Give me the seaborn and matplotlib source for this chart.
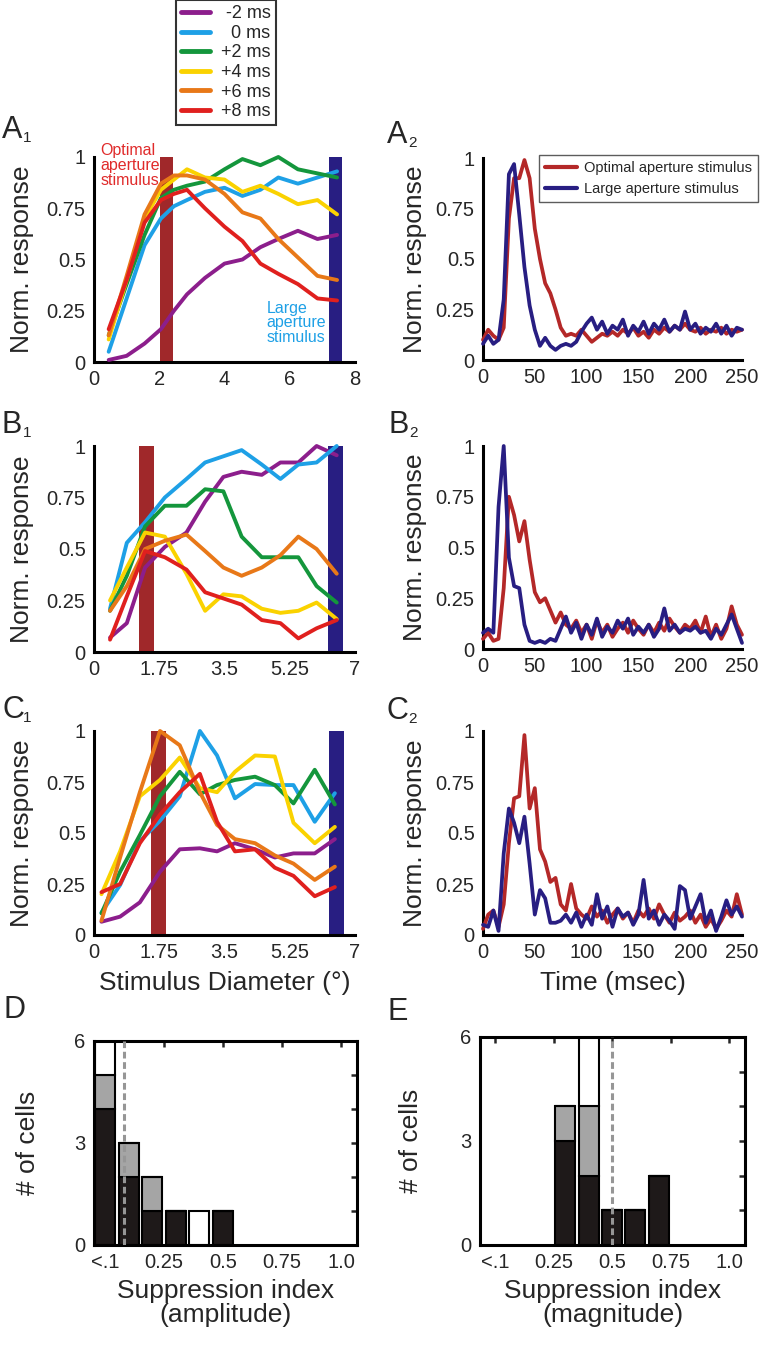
import sys

import numpy as np
import matplotlib
matplotlib.use("Agg")
import matplotlib.pyplot as plt
from matplotlib.lines import Line2D
import seaborn as sns

# tuning curves: response vs stimulus diameter for six delays
delay_labels = [' -2 ms', '  0 ms', '+2 ms', '+4 ms', '+6 ms', '+8 ms']
delay_colors = ['#8C1E8C', '#1EA0E6', '#14963C', '#FAD200', '#E87818', '#E0201E']

a1_diam = [0.45, 1.0, 1.55, 2.05, 2.45, 2.85, 3.4, 4.0, 4.55, 5.1, 5.65, 6.25, 6.85, 7.45]
a1_m2 = [0.01, 0.03, 0.09, 0.16, 0.25, 0.33, 0.41, 0.48, 0.50, 0.56, 0.60, 0.64, 0.60, 0.62]
a1_0 = [0.05, 0.31, 0.57, 0.70, 0.76, 0.79, 0.83, 0.85, 0.81, 0.84, 0.90, 0.87, 0.90, 0.93]
a1_p2 = [0.13, 0.38, 0.62, 0.80, 0.84, 0.86, 0.88, 0.94, 0.99, 0.96, 1.0, 0.94, 0.92, 0.90]
a1_p4 = [0.11, 0.40, 0.70, 0.84, 0.89, 0.94, 0.90, 0.89, 0.83, 0.86, 0.82, 0.77, 0.79, 0.72]
a1_p6 = [0.13, 0.42, 0.72, 0.87, 0.91, 0.91, 0.89, 0.82, 0.73, 0.70, 0.60, 0.51, 0.42, 0.40]
a1_p8 = [0.16, 0.40, 0.68, 0.79, 0.82, 0.84, 0.75, 0.66, 0.59, 0.48, 0.43, 0.38, 0.31, 0.30]

b1_diam = [0.43, 0.88, 1.37, 1.9, 2.48, 2.98, 3.47, 3.96, 4.5, 5.0, 5.48, 5.97, 6.51]
b1_m2 = [0.07, 0.14, 0.41, 0.51, 0.58, 0.73, 0.85, 0.875, 0.86, 0.92, 0.92, 1.0, 0.955]
b1_0 = [0.21, 0.53, 0.63, 0.75, 0.84, 0.92, 0.95, 0.98, 0.91, 0.84, 0.91, 0.92, 1.0]
b1_p2 = [0.20, 0.37, 0.61, 0.71, 0.71, 0.79, 0.78, 0.56, 0.46, 0.46, 0.46, 0.32, 0.24]
b1_p4 = [0.25, 0.41, 0.58, 0.56, 0.38, 0.20, 0.28, 0.27, 0.21, 0.19, 0.20, 0.24, 0.16]
b1_p6 = [0.20, 0.32, 0.50, 0.54, 0.57, 0.49, 0.41, 0.37, 0.41, 0.47, 0.56, 0.50, 0.38]
b1_p8 = [0.06, 0.27, 0.49, 0.46, 0.40, 0.29, 0.26, 0.23, 0.155, 0.14, 0.066, 0.115, 0.155]

c1_diam = [0.2, 0.7, 1.23, 1.77, 2.3, 2.84, 3.3, 3.78, 4.32, 4.85, 5.35, 5.92, 6.46]
c1_m2 = [0.065, 0.09, 0.16, 0.31, 0.42, 0.425, 0.41, 0.45, 0.42, 0.38, 0.40, 0.40, 0.47]
c1_0 = [0.11, 0.245, 0.46, 0.56, 0.68, 1.0, 0.88, 0.67, 0.74, 0.735, 0.735, 0.555, 0.695]
c1_p2 = [0.106, 0.31, 0.49, 0.68, 0.80, 0.69, 0.735, 0.76, 0.776, 0.735, 0.645, 0.81, 0.64]
c1_p4 = [0.20, 0.41, 0.68, 0.76, 0.87, 0.72, 0.70, 0.80, 0.88, 0.875, 0.55, 0.45, 0.53]
c1_p6 = [0.07, 0.38, 0.70, 1.0, 0.93, 0.70, 0.54, 0.47, 0.45, 0.39, 0.35, 0.27, 0.335]
c1_p8 = [0.21, 0.25, 0.45, 0.59, 0.70, 0.79, 0.555, 0.41, 0.42, 0.33, 0.29, 0.19, 0.235]

# optimal / large aperture diameters (deg) for each cell
optimal_diam = [2.22, 1.41, 1.73]
large_diam = [7.4, 6.47, 6.5]

# PSTHs, 5 ms bins
time_ms = [0, 5, 10, 15, 20, 25, 30, 35, 40, 45, 50, 55, 60, 65, 70, 75, 80, 85, 90, 95,
           100, 105, 110, 115, 120, 125, 130, 135, 140, 145, 150, 155, 160, 165, 170, 175,
           180, 185, 190, 195, 200, 205, 210, 215, 220, 225, 230, 235, 240, 245, 250]
a2_opt = [0.10, 0.15, 0.12, 0.10, 0.16, 0.70, 0.90, 0.90, 0.99, 0.90,
          0.65, 0.50, 0.38, 0.33, 0.25, 0.16, 0.12, 0.13, 0.12, 0.15,
          0.12, 0.09, 0.11, 0.13, 0.12, 0.14, 0.12, 0.15, 0.13, 0.16,
          0.12, 0.14, 0.11, 0.15, 0.13, 0.16, 0.14, 0.17, 0.15, 0.18,
          0.15, 0.14, 0.16, 0.13, 0.15, 0.14, 0.16, 0.13, 0.15, 0.14, 0.15]
a2_large = [0.08, 0.12, 0.08, 0.10, 0.30, 0.92, 0.97, 0.72, 0.46, 0.27,
            0.15, 0.07, 0.11, 0.07, 0.05, 0.07, 0.08, 0.07, 0.09, 0.14,
            0.18, 0.21, 0.15, 0.19, 0.13, 0.17, 0.15, 0.20, 0.12, 0.17,
            0.14, 0.19, 0.13, 0.18, 0.15, 0.20, 0.14, 0.17, 0.15, 0.24,
            0.15, 0.18, 0.13, 0.16, 0.14, 0.18, 0.13, 0.17, 0.12, 0.16, 0.15]
b2_opt = [0.05, 0.08, 0.04, 0.05, 0.30, 0.75, 0.66, 0.53, 0.63, 0.44,
          0.28, 0.23, 0.25, 0.19, 0.13, 0.18, 0.12, 0.10, 0.14, 0.08,
          0.12, 0.05, 0.14, 0.08, 0.12, 0.06, 0.10, 0.13, 0.08, 0.14,
          0.10, 0.07, 0.12, 0.08, 0.13, 0.09, 0.15, 0.11, 0.08, 0.12,
          0.10, 0.14, 0.08, 0.16, 0.06, 0.12, 0.05, 0.10, 0.21, 0.12, 0.07]
b2_large = [0.08, 0.10, 0.08, 0.70, 1.0, 0.45, 0.31, 0.30, 0.12, 0.04,
            0.03, 0.04, 0.03, 0.05, 0.04, 0.10, 0.16, 0.08, 0.13, 0.05,
            0.12, 0.07, 0.15, 0.06, 0.11, 0.08, 0.14, 0.10, 0.15, 0.07,
            0.11, 0.08, 0.12, 0.06, 0.10, 0.20, 0.09, 0.12, 0.08, 0.10,
            0.09, 0.11, 0.08, 0.09, 0.05, 0.10, 0.07, 0.12, 0.17, 0.10, 0.03]
c2_opt = [0.03, 0.10, 0.12, 0.04, 0.15, 0.45, 0.67, 0.68, 0.98, 0.62,
          0.72, 0.42, 0.36, 0.26, 0.28, 0.15, 0.12, 0.25, 0.13, 0.10,
          0.08, 0.14, 0.09, 0.12, 0.06, 0.10, 0.13, 0.08, 0.11, 0.06,
          0.12, 0.09, 0.13, 0.08, 0.15, 0.10, 0.06, 0.11, 0.07, 0.09,
          0.12, 0.06, 0.10, 0.04, 0.08, 0.03, 0.07, 0.12, 0.09, 0.20, 0.10]
c2_large = [0.05, 0.04, 0.12, 0.02, 0.40, 0.62, 0.55, 0.45, 0.58, 0.35,
            0.10, 0.22, 0.18, 0.06, 0.06, 0.07, 0.10, 0.06, 0.11, 0.04,
            0.10, 0.05, 0.20, 0.08, 0.14, 0.04, 0.13, 0.09, 0.11, 0.05,
            0.10, 0.27, 0.08, 0.12, 0.05, 0.10, 0.07, 0.03, 0.24, 0.22,
            0.08, 0.14, 0.20, 0.06, 0.12, 0.02, 0.09, 0.17, 0.10, 0.14, 0.09]
stim_labels = ['Optimal aperture stimulus', 'Large aperture stimulus']

# suppression index histograms (counts per 0.1 bin, stacked)
d_bins = [0.0, 0.1, 0.2, 0.3, 0.4, 0.5]
d_black = [4, 2, 1, 1, 0, 1]
d_gray = [1, 1, 1, 0, 0, 0]
d_white = [1, 0, 0, 0, 1, 0]
d_median = 0.08
e_bins = [0.3, 0.4, 0.5, 0.6, 0.7]
e_black = [3, 2, 1, 1, 2]
e_gray = [1, 2, 0, 0, 0]
e_white = [0, 2, 0, 0, 0]
e_median = 0.5
si_ticks = [0, 0.25, 0.5, 0.75, 1.0]
si_ticklabels = ['<.1', '0.25', '0.5', '0.75', '1.0']

W, H = 774, 1353
RED = '#B42828'
NAVY = '#281E82'
TICK_FS = 14.5
LABEL_FS = 19


def px_axes(fig, left, right, top, bottom):
    return fig.add_axes([left / W, 1 - bottom / H, (right - left) / W, (bottom - top) / H])


def style_axes(ax, box=False):
    for s in ['left', 'bottom', 'top', 'right']:
        ax.spines[s].set_linewidth(2.2)
        ax.spines[s].set_color('black')
        ax.spines[s].set_visible(box or s in ('left', 'bottom'))
    ax.tick_params(direction='in', length=4, width=1.8, labelsize=TICK_FS, pad=6,
                   top=box, right=box)


def panel_letter(fig, x, y, letter, sub=None):
    fig.text(x / W, 1 - y / H, letter, fontsize=22, va='baseline', ha='left')
    if sub is not None:
        fig.text((x + 21) / W, 1 - (y + 4) / H, sub, fontsize=11, va='baseline', ha='left')


def tuning_panel(ax, diam, curves, opt, large, xmax, xticks, xticklabels):
    ax.axvspan(opt - 0.2, opt + 0.2, ymin=0, ymax=1, color='#A0282A', lw=0, zorder=1)
    ax.axvspan(large - 0.2, large + 0.2, ymin=0, ymax=1, color=NAVY, lw=0, zorder=1)
    for y, c in zip(curves, delay_colors):
        sns.lineplot(x=diam, y=y, ax=ax, color=c, lw=2.8, errorbar=None, sort=False,
                     clip_on=False, zorder=3)
    ax.set_xlim(0, xmax)
    ax.set_ylim(0, 1)
    ax.set_xticks(xticks)
    ax.set_xticklabels(xticklabels)
    ax.set_yticks([0, 0.25, 0.5, 0.75, 1])
    ax.set_yticklabels(['0', '0.25', '0.5', '0.75', '1'])
    ax.set_ylabel('Norm. response', fontsize=LABEL_FS)
    ax.yaxis.set_label_coords(-0.228, 0.5)
    ax.set_xlabel('')
    style_axes(ax)


def psth_panel(ax, opt, large):
    sns.lineplot(x=time_ms, y=opt, ax=ax, color=RED, lw=2.7, errorbar=None, sort=False,
                 clip_on=False, zorder=3)
    sns.lineplot(x=time_ms, y=large, ax=ax, color=NAVY, lw=2.7, errorbar=None, sort=False,
                 clip_on=False, zorder=4)
    ax.set_xlim(0, 250)
    ax.set_ylim(0, 1)
    ax.set_xticks([0, 50, 100, 150, 200, 250])
    ax.set_xticklabels(['0', '50', '100', '150', '200', '250'])
    ax.set_yticks([0, 0.25, 0.5, 0.75, 1])
    ax.set_yticklabels(['0', '0.25', '0.5', '0.75', '1'])
    ax.set_ylabel('Norm. response', fontsize=LABEL_FS)
    ax.yaxis.set_label_coords(-0.216, 0.5)
    ax.set_xlabel('')
    style_axes(ax)


def hist_panel(ax, bins, black, gray, white, median, xlim, xlabel):
    bins = np.array(bins)
    black = np.array(black)
    gray = np.array(gray)
    white = np.array(white)
    kw = dict(width=0.085, edgecolor='black', linewidth=1.5, zorder=2)
    ax.bar(bins, black, color='#1E1919', **kw)
    ax.bar(bins, gray, bottom=black, color='#A5A5A5', **kw)
    ax.bar(bins, white, bottom=black + gray, color='white', **kw)
    ax.plot([median, median], [0, 6], color='#969696', lw=2.2, ls=(0, (2.2, 1.2)), zorder=4)
    ax.set_xlim(*xlim)
    ax.set_ylim(0, 6)
    ax.set_xticks(si_ticks)
    ax.set_xticklabels(si_ticklabels)
    ax.set_yticks([0, 1, 2, 3, 4, 5, 6])
    ax.set_yticklabels(['0', '', '', '3', '', '', '6'])
    ax.set_ylabel('# of cells', fontsize=LABEL_FS)
    ax.set_xlabel(xlabel, fontsize=LABEL_FS, linespacing=1.0, labelpad=5)
    style_axes(ax, box=True)


def main():
    sns.set_style('white')
    plt.rcParams['font.family'] = ['Liberation Sans', 'DejaVu Sans']

    fig = plt.figure(figsize=(W / 100, H / 100), dpi=100)

    # column 1: size tuning
    ax_a1 = px_axes(fig, 94, 355, 157, 362)
    tuning_panel(ax_a1, a1_diam, [a1_m2, a1_0, a1_p2, a1_p4, a1_p6, a1_p8],
                 optimal_diam[0], large_diam[0], 8, [0, 2, 4, 6, 8], ['0', '2', '4', '6', '8'])
    ax_a1.text(0.2, 1.07, 'Optimal\naperture\nstimulus', color='#E02A2A', fontsize=11.5,
               va='top', ha='left', linespacing=1.0)
    ax_a1.text(5.28, 0.30, 'Large\naperture\nstimulus', color='#1EA0E6', fontsize=11.5,
               va='top', ha='left', linespacing=1.0)

    tick7 = [0, 1.75, 3.5, 5.25, 7]
    tick7_lab = ['0', '1.75', '3.5', '5.25', '7']
    ax_b1 = px_axes(fig, 94, 355, 446, 652)
    tuning_panel(ax_b1, b1_diam, [b1_m2, b1_0, b1_p2, b1_p4, b1_p6, b1_p8],
                 optimal_diam[1], large_diam[1], 7, tick7, tick7_lab)
    ax_c1 = px_axes(fig, 94, 355, 731, 935)
    tuning_panel(ax_c1, c1_diam, [c1_m2, c1_0, c1_p2, c1_p4, c1_p6, c1_p8],
                 optimal_diam[2], large_diam[2], 7, tick7, tick7_lab)
    ax_c1.set_xlabel('Stimulus Diameter (°)', fontsize=LABEL_FS, labelpad=6)

    # column 2: PSTHs
    ax_a2 = px_axes(fig, 483, 742, 158, 360)
    psth_panel(ax_a2, a2_opt, a2_large)
    handles = [Line2D([], [], color=RED, lw=3), Line2D([], [], color=NAVY, lw=3)]
    leg = ax_a2.legend(handles, stim_labels, loc='upper left', bbox_to_anchor=(0.216, 1.015),
                       fontsize=10.5, frameon=True, fancybox=False, edgecolor='#333333',
                       handlelength=2.2, handletextpad=0.5, borderaxespad=0, borderpad=0.4,
                       labelspacing=0.5)
    leg.get_frame().set_linewidth(1.0)
    ax_b2 = px_axes(fig, 483, 742, 446, 649)
    psth_panel(ax_b2, b2_opt, b2_large)
    ax_c2 = px_axes(fig, 483, 742, 731, 935)
    psth_panel(ax_c2, c2_opt, c2_large)
    ax_c2.set_xlabel('Time (msec)', fontsize=LABEL_FS, labelpad=6)

    # histograms
    ax_d = px_axes(fig, 94, 357, 1041, 1245)
    hist_panel(ax_d, d_bins, d_black, d_gray, d_white, d_median, (-0.047, 1.068),
               'Suppression index\n(amplitude)')
    ax_d.yaxis.set_label_coords(-0.205, 0.5)
    ax_e = px_axes(fig, 480, 745, 1037, 1245)
    hist_panel(ax_e, e_bins, e_black, e_gray, e_white, e_median, (-0.064, 1.068),
               'Suppression index\n(magnitude)')
    ax_e.yaxis.set_label_coords(-0.215, 0.5)

    # delay legend at the top
    dh = [Line2D([], [], color=c, lw=3.5) for c in delay_colors]
    lg = fig.legend(dh, delay_labels, loc='upper left', bbox_to_anchor=(176 / W, 1.0),
                    fontsize=13, frameon=True, fancybox=False, edgecolor='black',
                    handlelength=1.6, handletextpad=0.6, labelspacing=0.14,
                    borderpad=0.3, borderaxespad=0)
    lg.get_frame().set_linewidth(1.5)

    panel_letter(fig, 2, 138, 'A', '1')
    panel_letter(fig, 387, 143, 'A', '2')
    panel_letter(fig, 2, 433, 'B', '1')
    panel_letter(fig, 388, 433, 'B', '2')
    panel_letter(fig, 2, 718, 'C', '1')
    panel_letter(fig, 387, 719, 'C', '2')
    panel_letter(fig, 4, 1018, 'D')
    panel_letter(fig, 387, 1020, 'E')

    fig.savefig('out.png', dpi=100, facecolor='white')


if __name__ == '__main__':
    sys.exit(main())
